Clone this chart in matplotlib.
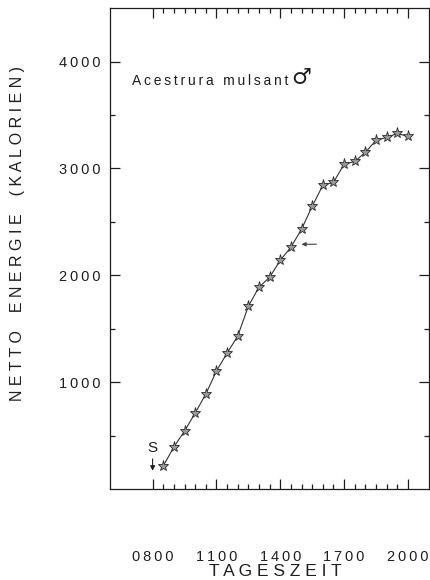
"""Netto energy over the day for Acestrura mulsant (male), redrawn from a scanned figure."""
import matplotlib
matplotlib.use("Agg")
import matplotlib.pyplot as plt
from matplotlib.ticker import FixedLocator, FuncFormatter

FONT = ["Liberation Sans", "DejaVu Sans"]
INK = "#1e1e1e"

# time of day in hours (half-hour readings) and cumulative net energy (calories)
hours = [8.5, 9.0, 9.5, 10.0, 10.5, 11.0, 11.5, 12.0, 12.5, 13.0, 13.5, 14.0,
         14.5, 15.0, 15.5, 16.0, 16.5, 17.0, 17.5, 18.0, 18.5, 19.0, 19.5, 20.0]
energy = [215, 393, 542, 710, 888, 1103, 1271, 1430, 1710, 1888, 1981, 2140,
          2262, 2430, 2645, 2841, 2869, 3037, 3065, 3150, 3262, 3290, 3327, 3299]

x_major = [8, 11, 14, 17, 20]
y_major = [1000, 2000, 3000, 4000]
y_minor = [500, 1500, 2500, 3500]


def spaced(s, sep="\u2009"):
    return sep.join(s)


fig = plt.figure(figsize=(4.3, 5.8), dpi=100)
ax = fig.add_axes([0.256, 0.157, 0.742, 0.829])

ax.plot(hours, energy, color="#333333", linewidth=0.8, zorder=2)
ax.plot(hours, energy, linestyle="none", marker="*", markersize=8,
        markerfacecolor="#9a9a9a", markeredgecolor="#2a2a2a",
        markeredgewidth=0.6, zorder=3)

ax.set_xlim(6, 21)
ax.set_ylim(0, 4500)

ax.xaxis.set_major_locator(FixedLocator(x_major))
ax.xaxis.set_minor_locator(FixedLocator([h / 2 for h in range(16, 41)]))
ax.yaxis.set_major_locator(FixedLocator(y_major))
ax.yaxis.set_minor_locator(FixedLocator(y_minor))
ax.xaxis.set_major_formatter(FuncFormatter(lambda v, p: spaced(f"{int(v):02d}00")))
ax.yaxis.set_major_formatter(FuncFormatter(lambda v, p: spaced(f"{int(v)}")))

ax.tick_params(which="both", direction="in", top=True, right=True,
               bottom=True, left=True, color=INK, width=0.9)
ax.tick_params(which="major", length=7.2)
ax.tick_params(which="minor", length=3.8)
ax.tick_params(axis="x", which="major", pad=44)
ax.tick_params(axis="y", which="major", pad=7)
for lab in ax.get_xticklabels() + ax.get_yticklabels():
    lab.set_family(FONT)
    lab.set_fontsize(10.5)
    lab.set_color(INK)

for sp in ax.spines.values():
    sp.set_color(INK)
    sp.set_linewidth(0.9)

fig.text(0.04, 0.597, "N E T T O    E N E R G I E    ( K A L O R I E N )",
         rotation=90, ha="center", va="center", fontsize=11.5,
         family=FONT, color=INK)
fig.text(0.64, 0.015, "T A G E S Z E I T", ha="center", va="center",
         fontsize=12.5, family=FONT, color=INK)

title = ax.text(7.05, 3820, spaced("Acestrura mulsant") + "\u2009", ha="left",
                va="center", fontsize=10, family=FONT, color=INK)
ax.annotate("\u2642", xycoords=title, xy=(1.0, 0.5), ha="left", va="center",
            xytext=(0, 2), textcoords="offset points",
            fontsize=16, family=["DejaVu Sans"], color=INK)

ax.annotate("S", xy=(8, 170), xytext=(8, 320), ha="center", va="bottom",
            fontsize=11, family=FONT, color=INK,
            arrowprops=dict(arrowstyle="-|>", color=INK, lw=0.8,
                            mutation_scale=7, shrinkA=1, shrinkB=0))
ax.annotate("", xy=(15.0, 2290), xytext=(15.7, 2290),
            arrowprops=dict(arrowstyle="-|>", color="#444444", lw=0.8,
                            mutation_scale=6, shrinkA=0, shrinkB=0))

fig.savefig("out.png", dpi=100, facecolor="white")
